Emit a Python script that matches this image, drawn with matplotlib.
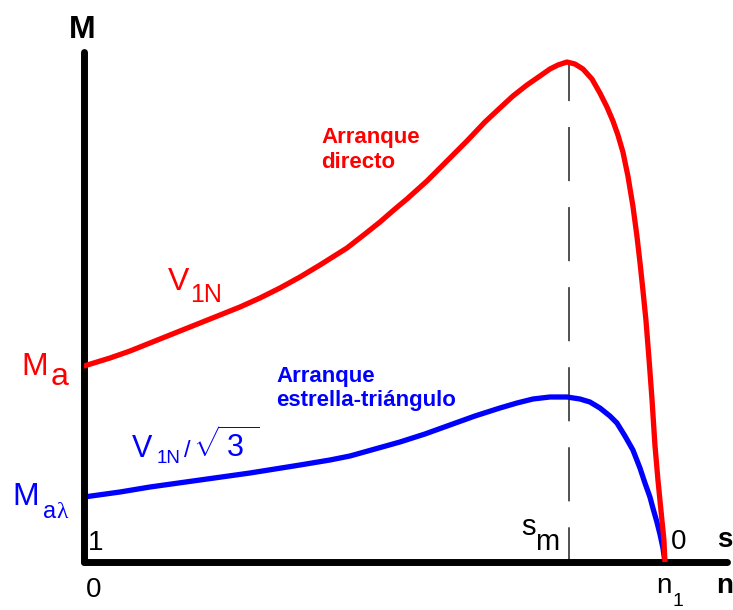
import matplotlib
matplotlib.use("Agg")
import matplotlib.pyplot as plt

plt.rcParams['font.family'] = ['Liberation Sans', 'DejaVu Sans']
plt.rcParams['mathtext.fontset'] = 'custom'
plt.rcParams['mathtext.rm'] = 'Liberation Sans'

# speed n/n1 (0 -> 1) and torque M/Mmax
speed_direct = [0.0, 0.0448, 0.0792, 0.1222, 0.1652, 0.1997, 0.2341, 0.2685,
                0.3029, 0.3373, 0.3718, 0.4062, 0.4527, 0.4836, 0.5095, 0.5353,
                0.5559, 0.5904, 0.6248, 0.6592, 0.6902, 0.7160, 0.7384, 0.7625,
                0.7849, 0.8021, 0.8158, 0.8313, 0.8451, 0.8589, 0.8744, 0.8881,
                0.9002, 0.9105, 0.9191, 0.9277, 0.9363, 0.9449, 0.9518, 0.9570,
                0.9621, 0.9673, 0.9725, 0.9776, 0.9828, 0.9880, 0.9931, 0.9983,
                1.0]
torque_direct = [0.392, 0.408, 0.422, 0.442, 0.462, 0.478, 0.494, 0.510,
                 0.528, 0.548, 0.570, 0.594, 0.628, 0.656, 0.680, 0.706,
                 0.726, 0.762, 0.802, 0.842, 0.880, 0.908, 0.932, 0.954,
                 0.972, 0.986, 0.994, 1.0, 0.996, 0.986, 0.966, 0.938,
                 0.910, 0.882, 0.854, 0.820, 0.772, 0.712, 0.652, 0.600,
                 0.544, 0.484, 0.408, 0.328, 0.234, 0.164, 0.104, 0.044,
                 0.0]

speed_star = [0.0, 0.0620, 0.1136, 0.1997, 0.2857, 0.3718, 0.4234, 0.4578,
              0.5009, 0.5439, 0.5869, 0.6299, 0.6730, 0.7160, 0.7453, 0.7728,
              0.8021, 0.8313, 0.8537, 0.8709, 0.8881, 0.9053, 0.9174, 0.9312,
              0.9449, 0.9570, 0.9656, 0.9742, 0.9793, 0.9862, 0.9914, 0.9966,
              1.0]
torque_star = [0.130, 0.140, 0.150, 0.164, 0.178, 0.194, 0.204, 0.212,
               0.226, 0.240, 0.256, 0.274, 0.292, 0.308, 0.318, 0.326,
               0.330, 0.330, 0.326, 0.320, 0.308, 0.292, 0.278, 0.252,
               0.224, 0.188, 0.158, 0.130, 0.108, 0.080, 0.056, 0.028,
               0.0]

s_m = 0.835          # slip at maximum torque
s_m_top = 0.994

fig = plt.figure(figsize=(7.33, 6.10), dpi=100)
ax = fig.add_axes([84 / 733, 48 / 610, 642.5 / 733, 510.5 / 610])
ax.set_xlim(0, 1.106)
ax.set_ylim(0, 1.021)
ax.set_xticks([])
ax.set_yticks([])
for side in ['top', 'right']:
    ax.spines[side].set_visible(False)
for side in ['left', 'bottom']:
    ax.spines[side].set_linewidth(5.0)
    ax.spines[side].set_capstyle('round')

ax.plot([s_m, s_m], [s_m_top, 0], color='#222222', lw=1.1,
        ls=(11.8, (35.4, 17.0)), zorder=1)
ax.plot(speed_star, torque_star, color='#0000ff', lw=3.8,
        solid_capstyle='round', solid_joinstyle='round', zorder=2)
ax.plot(speed_direct, torque_direct, color='#ff0000', lw=3.8,
        solid_capstyle='round', solid_joinstyle='round', zorder=3)

red, blue, black = '#ff0000', '#0000ff', 'black'


def label(x, y, s, color=black, size=20, **kw):
    ax.text(x, y, s, color=color, fontsize=size, ha='left', va='baseline',
            clip_on=False, **kw)


# axis names
ax.text(-0.003, 1.048, 'M', fontsize=23, fontweight='bold', ha='center',
        va='baseline', clip_on=False)
label(1.0895, 0.030, 's', size=20, fontweight='bold')
label(1.088, -0.062, 'n', size=20, fontweight='bold')

# axis marks
label(0.007, 0.024, '1')
label(0.003, -0.070, '0')
label(1.010, 0.026, '0')
label(0.752, 0.054, 's', size=21)
label(0.776, 0.024, 'm', size=21)
label(0.9845, -0.062, 'n')
label(1.0138, -0.088, '1', size=14)

# starting torques
label(-0.108, 0.374, 'M', red, 23)
label(-0.057, 0.354, 'a', red, 23)
label(-0.124, 0.114, 'M', blue, 23)
label(-0.071, 0.088, 'a', blue, 17)
label(-0.047, 0.088, 'λ', blue, 17, family='Liberation Serif')

# supply voltages
label(0.1446, 0.544, 'V', red, 23)
label(0.1824, 0.520, '1N', red, 18)
label(0.0826, 0.210, 'V', blue, 22)
label(0.1256, 0.198, '1N', blue, 13.5)
label(0.172, 0.210, '/', blue, 17)
label(0.1876, 0.210, r'$\sqrt{\,3\,\,}$', blue, 22)

# curve names
label(0.408, 0.838, 'Arranque', red, 16, fontweight='bold')
label(0.408, 0.788, 'directo', red, 16, fontweight='bold')
label(0.3305, 0.360, 'Arranque', blue, 16, fontweight='bold')
label(0.3305, 0.312, 'estrella-triángulo', blue, 16, fontweight='bold')

fig.savefig('out.png', dpi=100)
